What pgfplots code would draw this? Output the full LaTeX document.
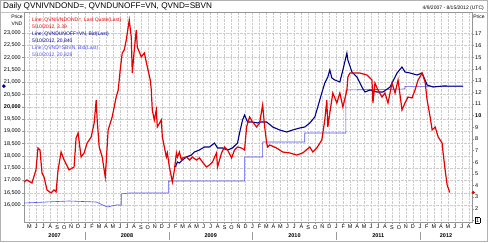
\documentclass[border=0pt]{standalone}
\usepackage{fontspec}
\setmainfont{Liberation Sans}
\usepackage{pgfplots}
\usepackage{pgfplotstable}
\pgfplotsset{compat=1.18}
\definecolor{rline}{RGB}{232,0,0}
\definecolor{dblue}{RGB}{0,0,140}
\definecolor{lblue}{RGB}{80,80,235}
\definecolor{axgray}{RGB}{150,150,150}

\pgfplotstableread{
t p
2007.270 4.30
2007.305 4.47
2007.365 4.21
2007.413 5.33
2007.437 7.21
2007.461 7.04
2007.485 5.07
2007.509 4.73
2007.545 3.61
2007.593 3.35
2007.629 3.61
2007.653 3.44
2007.677 5.33
2007.713 6.87
2007.749 6.18
2007.808 5.33
2007.868 5.58
2007.892 8.07
2007.916 8.50
2007.952 6.44
2007.988 6.79
2008.024 7.64
2008.072 8.16
2008.108 9.36
2008.132 11.33
2008.144 9.62
2008.168 7.30
2008.204 6.44
2008.240 4.73
2008.251 5.93
2008.275 8.76
2008.323 9.88
2008.347 10.73
2008.371 11.59
2008.395 12.19
2008.419 13.91
2008.443 15.37
2008.467 15.63
2008.491 16.48
2008.527 18.20
2008.551 16.74
2008.563 13.65
2008.587 15.63
2008.611 17.34
2008.623 15.88
2008.671 15.03
2008.707 15.37
2008.743 14.17
2008.778 13.05
2008.790 12.19
2008.802 10.48
2008.826 9.62
2008.850 10.48
2008.862 9.02
2008.910 9.62
2008.922 8.16
2008.946 7.30
2008.970 6.44
2008.982 6.79
2009.006 5.58
2009.030 4.73
2009.042 4.30
2009.066 5.33
2009.090 6.79
2009.102 6.44
2009.126 6.87
2009.150 6.18
2009.162 6.36
2009.210 6.44
2009.246 6.18
2009.281 6.44
2009.329 6.18
2009.365 6.36
2009.401 6.01
2009.449 5.58
2009.485 5.76
2009.521 6.01
2009.569 6.79
2009.581 5.58
2009.629 6.79
2009.665 7.30
2009.701 7.04
2009.749 6.36
2009.784 7.04
2009.820 7.30
2009.868 7.21
2009.904 7.04
2009.928 9.02
2009.964 9.88
2010.000 9.45
2010.048 9.02
2010.084 9.36
2010.120 10.91
2010.144 9.02
2010.168 7.64
2010.180 7.30
2010.204 7.47
2010.287 7.21
2010.359 6.87
2010.443 6.79
2010.527 6.61
2010.599 6.79
2010.683 7.30
2010.719 6.87
2010.766 7.21
2010.826 7.90
2010.862 9.62
2010.886 11.33
2010.898 9.02
2010.922 10.22
2010.958 11.94
2011.006 11.08
2011.042 11.94
2011.078 10.73
2011.126 12.19
2011.138 13.31
2011.162 13.65
2011.281 13.65
2011.365 13.48
2011.425 13.05
2011.437 11.08
2011.461 12.79
2011.497 12.19
2011.545 11.59
2011.581 11.94
2011.617 11.08
2011.665 12.79
2011.701 11.94
2011.737 13.05
2011.784 10.48
2011.820 11.08
2011.856 11.59
2011.904 11.51
2011.940 12.19
2011.976 13.05
2012.024 13.65
2012.060 12.88
2012.084 11.33
2012.120 9.88
2012.144 8.76
2012.180 9.02
2012.216 8.16
2012.263 7.64
2012.275 6.79
2012.299 5.33
2012.323 4.04
2012.355 3.39
}\redtable

\pgfplotstableread{
t v
2009.078 17547
2009.102 17750
2009.126 17709
2009.162 17832
2009.210 17954
2009.269 18035
2009.305 18157
2009.365 18239
2009.425 18361
2009.485 18361
2009.545 18523
2009.581 18320
2009.641 18320
2009.701 18239
2009.760 18320
2009.820 18523
2009.844 18930
2009.880 19460
2009.904 19663
2009.940 19378
2010.000 19378
2010.060 19337
2010.084 19378
2010.168 19378
2010.240 19175
2010.323 19053
2010.407 18971
2010.479 19053
2010.563 19134
2010.623 19175
2010.683 19337
2010.743 19582
2010.778 19989
2010.826 20558
2010.862 20965
2010.898 21210
2010.922 21495
2010.946 21169
2010.982 21088
2011.042 21006
2011.078 21495
2011.126 22186
2011.138 21902
2011.186 21413
2011.246 21210
2011.305 20803
2011.341 20599
2011.401 20681
2011.485 20599
2011.557 20599
2011.641 20803
2011.725 21373
2011.784 21617
2011.820 21413
2011.880 21373
2011.964 21291
2012.024 21373
2012.084 20884
2012.156 20803
2012.275 20843
2012.355 20840
2012.515 20840
}\dbluetable

\pgfplotstableread{
t v
2007.270 16081
2007.808 16163
2008.132 16122
2008.263 15919
2008.371 16000
2008.431 16000
2008.431 16448
2008.527 16488
2008.994 16488
2008.994 16977
2009.904 16977
2009.904 17954
2010.120 17954
2010.120 18564
2010.623 18564
2010.623 18930
2011.114 18930
2011.114 20681
2011.820 20721
2011.820 20828
2012.515 20828
}\lbluetable

\begin{document}
\begin{tikzpicture}[x=1pt,y=1pt]
\useasboundingbox (0,0) rectangle (488,242);
\draw[gray!60] (0.5,0.5) rectangle (487.5,241.5);
\draw[gray!50] (0.5,230) -- (487.5,230);

\begin{axis}[
  at={(24pt,20pt)}, anchor=south west, scale only axis,
  width=448pt, height=210pt,
  xmin=2007.27, xmax=2012.62, ymin=15308, ymax=23855,
  scaled x ticks=false, scaled y ticks=false,
  clip=false,
  axis line style={axgray},
  tick style={axgray, thin}, tick align=outside, major tick length=2pt,
  xtick pos=bottom, ytick pos=left,
  xtick={2007.333333,2007.416667,...,2012.6},
  xticklabels={M,J,J,A,S,O,N,D,J,F,M,A,M,J,J,A,S,O,N,D,J,F,M,A,M,J,J,A,S,O,N,D,J,F,M,A,M,J,J,A,S,O,N,D,J,F,M,A,M,J,J,A,S,O,N,D,J,F,M,A,M,J,J,A},
  x tick label style={font=\fontsize{5.5}{6}\selectfont, inner sep=1pt},
  ytick={16000,16500,...,23000},
  yticklabels={{16,000},{16,500},{17,000},{17,500},{18,000},{18,500},{19,000},{19,500},{\textbf{20,000}},{20,500},{21,000},{21,500},{22,000},{22,500},{23,000}},
  y tick label style={font=\fontsize{5.5}{6}\selectfont, inner sep=1pt},
  grid=major, grid style={gray!40, densely dotted},
]
\addplot[lblue, line width=0.6pt] table[x=t,y=v] {\lbluetable};
\addplot[dblue, line width=1.1pt] table[x=t,y=v] {\dbluetable};
\addplot[dblue, only marks, mark=*, mark size=1.6pt] coordinates {(2007.03,20840)};
\draw[gray!80] (axis cs:2008,15308) ++(0pt,-10pt) -- ++(0pt,-8pt);
\draw[gray!80] (axis cs:2009,15308) ++(0pt,-10pt) -- ++(0pt,-8pt);
\draw[gray!80] (axis cs:2010,15308) ++(0pt,-10pt) -- ++(0pt,-8pt);
\draw[gray!80] (axis cs:2011,15308) ++(0pt,-10pt) -- ++(0pt,-8pt);
\draw[gray!80] (axis cs:2012,15308) ++(0pt,-10pt) -- ++(0pt,-8pt);
\node[font=\fontsize{5.5}{6}\selectfont\bfseries] at (axis cs:2007.635,15308) [yshift=-14pt] {2007};
\node[font=\fontsize{5.5}{6}\selectfont\bfseries] at (axis cs:2008.5,15308) [yshift=-14pt] {2008};
\node[font=\fontsize{5.5}{6}\selectfont\bfseries] at (axis cs:2009.5,15308) [yshift=-14pt] {2009};
\node[font=\fontsize{5.5}{6}\selectfont\bfseries] at (axis cs:2010.5,15308) [yshift=-14pt] {2010};
\node[font=\fontsize{5.5}{6}\selectfont\bfseries] at (axis cs:2011.5,15308) [yshift=-14pt] {2011};
\node[font=\fontsize{5.5}{6}\selectfont\bfseries] at (axis cs:2012.31,15308) [yshift=-14pt] {2012};
\end{axis}

\begin{axis}[
  at={(24pt,20pt)}, anchor=south west, scale only axis,
  width=448pt, height=210pt,
  xmin=2007.27, xmax=2012.62, ymin=0.86, ymax=18.89,
  scaled x ticks=false, scaled y ticks=false,
  clip=false,
  axis x line=none, axis y line*=right,
  axis line style={axgray},
  tick style={axgray, thin}, tick align=outside, major tick length=2pt,
  ytick={1,...,17},
  yticklabels={{\fboxsep=0.6pt\fbox{1}},2,3,4,5,6,7,8,9,\textbf{10},11,12,13,14,15,16,17},
  y tick label style={font=\fontsize{5.5}{6}\selectfont, inner sep=1pt},
]
\addplot[rline, line width=1.2pt] table[x=t,y=p] {\redtable};
\addplot[rline, only marks, mark=*, mark size=1.4pt] coordinates {(2012.635,3.39)};
\end{axis}

\begin{scope}[every node/.style={inner sep=0pt}]
\node[anchor=west, font=\fontsize{8.2}{9}\selectfont] at (3,236) {Daily QVNIVNDOND=, QVNDUNOFF=VN, QVND=SBVN};
\node[anchor=east, font=\fontsize{5}{6}\selectfont] at (484,233.5) {4/9/2007 - 8/15/2012 (UTC)};
\node[font=\fontsize{5}{6}\selectfont] at (17,225.5) {Price};
\node[font=\fontsize{5}{6}\selectfont] at (17,218) {VND};
\node[font=\fontsize{5}{6}\selectfont] at (479,225.5) {Price};
\end{scope}
\begin{scope}[every node/.style={anchor=west, inner sep=0pt, font=\fontsize{5}{6}\selectfont}]
\node[text=rline] at (32,222) {Line; QVNIVNDOND=, Last Quote(Last)};
\node[text=rline] at (32,215) {5/10/2012, 3.39};
\node[text=dblue] at (32,208) {Line; QVNDUNOFF=VN, Bid(Last)};
\node[text=dblue] at (32,201) {5/10/2012, 20,840};
\node[text=lblue] at (32,194) {Line; QVND=SBVN, Bid(Last)};
\node[text=lblue] at (32,187) {5/10/2012, 20,828};
\end{scope}
\end{tikzpicture}
\end{document}
